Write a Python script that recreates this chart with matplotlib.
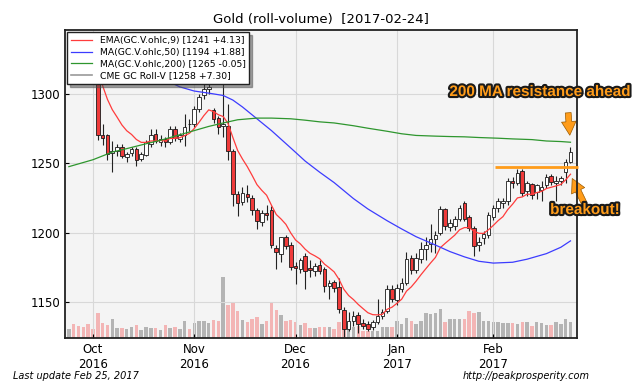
import matplotlib
matplotlib.use('Agg')
import matplotlib.pyplot as plt
import matplotlib.patheffects as pe
import numpy as np
import pandas as pd

# ---------------- data ----------------
holidays = ['2016-11-24', '2016-12-26', '2017-01-02', '2017-01-16', '2017-02-20']
dates = pd.bdate_range('2016-09-26', '2017-02-24')
dates = dates[~dates.isin(pd.to_datetime(holidays))]

opens = [1338, 1341, 1330, 1326, 1322, 1317, 1313, 1270, 1270, 1257,
         1259, 1261.5, 1254.5, 1257.5, 1260, 1253, 1256, 1264, 1271, 1265,
         1267.5, 1265, 1274.8, 1267.5, 1270, 1278.3, 1278, 1289, 1298.8, 1303.6,
         1288, 1282.5, 1277, 1277, 1259, 1228, 1222, 1228, 1224.8, 1216,
         1207.5, 1214, 1216.3, 1188.7, 1184.6, 1196.6, 1191, 1175.7, 1173.8, 1183,
         1174.3, 1172.6, 1176.7, 1173.8, 1161.3, 1164.7, 1160.6, 1144.2, 1130.5, 1136.5,
         1140.6, 1134.6, 1134, 1132.2, 1135.3, 1139.7, 1143.8, 1159.4, 1151.7, 1159.4,
         1164, 1181.5, 1173.3, 1181, 1188, 1192, 1195, 1200, 1217, 1204,
         1204.5, 1210, 1221.6, 1211.5, 1203, 1191, 1196, 1198, 1211.5, 1217.5,
         1221, 1223, 1237.5, 1236, 1244.5, 1229.6, 1235, 1229, 1231, 1234.4,
         1241, 1236, 1237, 1243.5, 1251]
highs = [1344, 1343, 1334, 1330, 1326, 1320, 1314, 1278, 1271, 1266,
         1264, 1264, 1258, 1262, 1261.5, 1258, 1266.5, 1275, 1275, 1270,
         1269, 1277, 1277, 1272, 1285.5, 1282, 1291, 1300, 1308, 1307,
         1290, 1284, 1337, 1293, 1260, 1230, 1232.7, 1234, 1227, 1218,
         1216, 1220, 1219, 1191, 1197, 1198, 1193, 1179, 1182, 1185,
         1180, 1178, 1180, 1175, 1166, 1166, 1167, 1146, 1143, 1143.8,
         1143, 1137.5, 1136, 1137, 1152, 1145, 1162, 1162, 1163, 1167,
         1186, 1184, 1185, 1193, 1197, 1206, 1201, 1219, 1218, 1210,
         1212, 1220, 1223, 1213, 1205, 1197, 1201, 1215, 1220, 1225,
         1225, 1239, 1240, 1246, 1246, 1237, 1236, 1235, 1237, 1242,
         1242.5, 1241, 1241, 1253, 1261.5]
lows = [1333, 1328, 1322, 1318, 1314, 1310, 1267, 1263, 1252, 1243.5,
        1255, 1253.5, 1251, 1255, 1248, 1251.5, 1255, 1262, 1264.5, 1262.5,
        1262, 1263.5, 1266, 1265, 1262.5, 1273, 1276, 1287, 1296, 1300,
        1279, 1271, 1269, 1252, 1219.5, 1212, 1220, 1222, 1213, 1202.6,
        1205, 1209, 1189, 1174, 1179, 1188, 1173, 1163, 1171, 1159,
        1168, 1169, 1170, 1157, 1152, 1157, 1142, 1124.5, 1129, 1133,
        1127.6, 1130.5, 1129, 1130, 1134, 1138, 1142, 1150, 1148, 1157,
        1162, 1170, 1171, 1178, 1180.5, 1186, 1185, 1198, 1202, 1201,
        1202, 1208, 1208, 1201, 1183.4, 1187, 1192, 1196, 1209, 1215,
        1218, 1220, 1232, 1234, 1226, 1226, 1224, 1224, 1223, 1232,
        1234, 1223, 1234, 1236, 1250]
closes = [1341, 1330, 1326, 1322, 1317, 1313, 1270, 1268, 1256.5, 1259,
          1261.5, 1255, 1256.7, 1260, 1252.6, 1256.7, 1265, 1270, 1266.3, 1267.5,
          1265, 1274.8, 1268, 1270.4, 1276, 1278, 1289, 1297.6, 1303.6, 1304.8,
          1282, 1276, 1278.4, 1259, 1228, 1221.4, 1228.4, 1225.5, 1215.9, 1208,
          1214, 1212.7, 1191, 1186.3, 1196.6, 1190.6, 1175, 1174.3, 1180.5, 1172.6,
          1173.3, 1176, 1172.6, 1161.8, 1164, 1159.9, 1145, 1130.5, 1136.5, 1140,
          1134, 1133, 1130.5, 1135.3, 1140, 1142.5, 1159.4, 1152.2, 1160, 1164,
          1181, 1173.3, 1181.5, 1188, 1191, 1195, 1198, 1217, 1204.6, 1207,
          1210, 1217.5, 1210, 1203.5, 1190.6, 1193.5, 1199, 1212.7, 1217.5, 1222.5,
          1223, 1237, 1236, 1243, 1228.5, 1235.6, 1227, 1234, 1233, 1240,
          1236.3, 1237.5, 1239, 1251.1, 1258.4]
volumes = [186, 286, 234, 214, 286, 186, 506, 306, 266, 386,
           200, 200, 186, 226, 254, 166, 226, 200, 200, 166,
           254, 200, 214, 186, 334, 174, 306, 346, 346, 306,
           354, 334, 1220, 654, 694, 534, 354, 320, 374, 414,
           274, 346, 706, 566, 460, 346, 354, 314, 254,
           300, 200, 200, 220, 230, 220, 190, 320, 500, 250,
           220, 240, 150, 150, 150, 150, 220, 220, 220, 340,
           280, 400, 340, 280, 340, 500, 480, 500, 580, 330,
           380, 380, 380, 380, 540, 500, 520, 340, 340, 320,
           320, 300, 300, 300, 280, 320, 320, 240, 320, 300,
           260, 260, 320, 280, 380, 320]

ma50_idx = [20, 23, 26, 29, 32, 34, 36, 39, 42, 46, 49, 52, 55, 59, 62, 66,
            69, 72, 76, 79, 82, 85, 88, 92, 95, 99, 102, 104]
ma50_val = [1310, 1305, 1302, 1300.5, 1298.8, 1295.5, 1290.5, 1282, 1273.5,
            1261, 1251.5, 1243.5, 1236, 1224.5, 1217, 1208.5, 1202.6, 1197,
            1191, 1186.3, 1182.5, 1179.3, 1178, 1178.6, 1180.8, 1184.8, 1189.4, 1194]
ma200_idx = [0, 5, 9, 12, 16, 19, 23, 26, 29, 32, 35, 39, 42, 46, 49, 52, 55,
             59, 62, 66, 69, 72, 76, 79, 82, 85, 89, 92, 96, 99, 102, 104]
ma200_val = [1247.5, 1252.5, 1258, 1260.5, 1264, 1266.5, 1270.5, 1273.5, 1276.5,
             1279, 1281.3, 1282.5, 1282.5, 1282, 1281, 1279.8, 1279, 1277, 1275.2,
             1273, 1271.2, 1270, 1269.5, 1269.2, 1269, 1268.5, 1268, 1267.5, 1267,
             1266, 1265.6, 1265.1]

legend_labels = ['EMA(GC.V.ohlc,9) [1241 +4.13]',
                 'MA(GC.V.ohlc,50) [1194 +1.88]',
                 'MA(GC.V.ohlc,200) [1265 -0.05]',
                 'CME GC Roll-V [1258 +7.30]']
y_ticks = [1150, 1200, 1250, 1300]
resistance_level = 1247
resistance_start = 88.4
title = 'Gold (roll-volume)  [2017-02-24]'

# ---------------- plot ----------------
W, H = 640, 384
fig = plt.figure(figsize=(W / 100, H / 100), dpi=100)
ax = fig.add_axes([65 / W, 46 / H, 512 / W, 308 / H])
axv = ax.twinx()
ax.set_zorder(axv.get_zorder() + 1)
ax.patch.set_visible(False)
axv.patch.set_visible(True)
axv.patch.set_facecolor('#f4f4f4')

x = np.arange(len(closes))
o = np.array(opens)
c = np.array(closes)
up = c >= o

# volume
axv.bar(x, volumes, width=0.72, color=np.where(up, '#b4b4b4', '#f3b5b5'), linewidth=0)
axv.set_ylim(0, 6160)
axv.set_yticks([])
for s in axv.spines.values():
    s.set_visible(False)

# candles
ax.vlines(x, lows, highs, color='#222222', lw=0.8, zorder=3)
ax.bar(x, c - o, bottom=o, width=0.74, color=np.where(up, 'white', '#ef3a3a'),
       edgecolor='#1a1a1a', linewidth=0.6, zorder=3.5)

ema9 = pd.Series(closes).ewm(span=9, adjust=False).mean().values
l1, = ax.plot(x, ema9, color='#ff3c3c', lw=0.9, zorder=4)
l2, = ax.plot(ma50_idx, ma50_val, color='#3c3cff', lw=0.9, zorder=4)
l3, = ax.plot(ma200_idx, ma200_val, color='#2e962e', lw=0.9, zorder=4)
l4, = ax.plot([], [], color='#9a9a9a', lw=1.2)

ax.set_xlim(-0.8, 105.35)
ax.set_ylim(1124, 1346)

month_idx = [i for i in range(1, len(dates)) if dates[i].month != dates[i - 1].month]
ax.set_xticks(month_idx)
ax.set_xticklabels([f"{dates[i]:%b}\n{dates[i]:%Y}" for i in month_idx])
ax.set_yticks(y_ticks)
ax.tick_params(direction='in', labelsize=8.5, length=3, width=0.8)
ax.grid(True, color='#d8d8d8', lw=0.8)
for s in ax.spines.values():
    s.set_linewidth(1.3)
    s.set_color('#222222')

leg = ax.legend([l1, l2, l3, l4], legend_labels, loc='upper left', fontsize=6.7,
                frameon=True, fancybox=False, shadow=True, edgecolor='#222222',
                framealpha=1, borderaxespad=0.25, labelspacing=0.3,
                handlelength=2.3, borderpad=0.4)
leg.set_zorder(10)

ax.set_title(title, fontsize=9.5, pad=5)

# annotations
orange = '#ff9c1a'
stroke = [pe.withStroke(linewidth=3, foreground='#1a1a1a')]
ax.hlines(resistance_level, resistance_start, 105.6, color=orange, lw=2, clip_on=False, zorder=6)
fig.text(540 / W, 1 - 92 / H, '200 MA resistance ahead', ha='center', va='center',
         fontsize=11, fontweight='bold', color=orange, family='Liberation Sans',
         path_effects=stroke)
fig.text(585 / W, 1 - 210 / H, 'breakout!', ha='center', va='center',
         fontsize=11, fontweight='bold', color=orange, family='Liberation Sans',
         path_effects=stroke)
arrow_kw = dict(arrowstyle='simple,head_length=0.7,head_width=0.75,tail_width=0.3',
                fc=orange, ec='#9a5a00', lw=0.5)
fig.add_artist(matplotlib.patches.FancyArrowPatch((568, H - 110), (570, H - 138),
               transform=None, mutation_scale=14, **arrow_kw))
fig.add_artist(matplotlib.patches.FancyArrowPatch((585, H - 205), (571, H - 176),
               transform=None, mutation_scale=14, **arrow_kw))

fig.text(13 / W, 1 - 376 / H, 'Last update Feb 25, 2017', ha='left', va='center',
         fontsize=7, style='italic')
fig.text(590 / W, 1 - 376 / H, 'http://peakprosperity.com', ha='right', va='center',
         fontsize=7, style='italic')

fig.savefig('out.png', dpi=100, facecolor='white')
